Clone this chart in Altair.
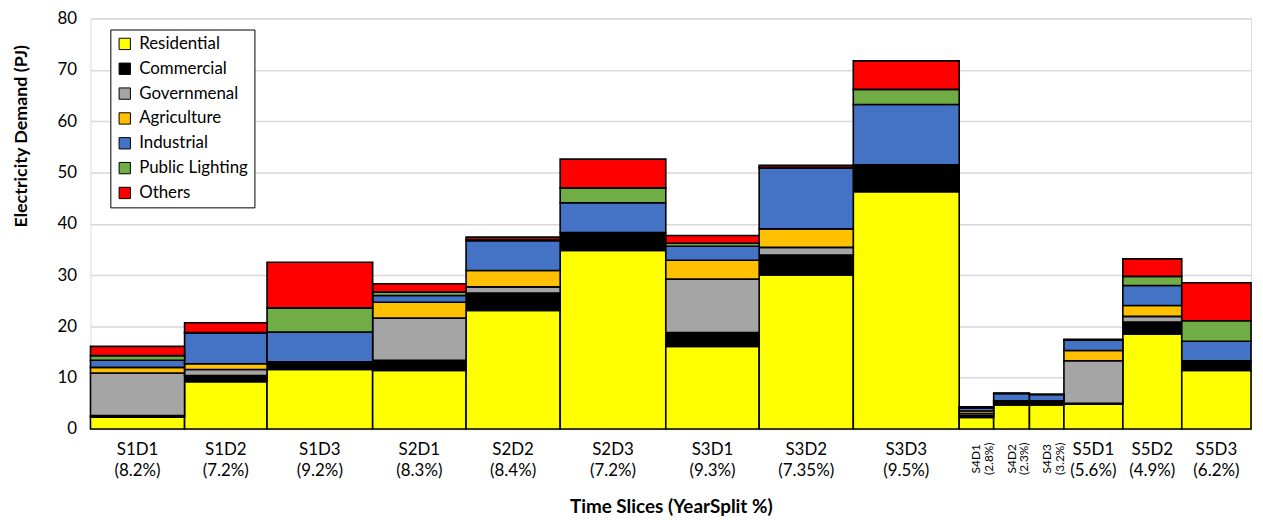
import altair as alt
import pandas as pd

# ---- data ----
slices = ["S1D1", "S1D2", "S1D3", "S2D1", "S2D2", "S2D3", "S3D1", "S3D2", "S3D3",
          "S4D1", "S4D2", "S4D3", "S5D1", "S5D2", "S5D3"]
year_split = ["8.2%", "7.2%", "9.2%", "8.3%", "8.4%", "7.2%", "9.3%", "7.35%", "9.5%",
              "2.8%", "2.3%", "3.2%", "5.6%", "4.9%", "6.2%"]
# relative drawn width of each time-slice column
slice_width = [94.7, 83.0, 106.3, 94.0, 94.7, 106.3, 94.0, 94.7, 106.6,
               34.7, 36.0, 34.7, 59.3, 59.3, 69.7]

sectors = ["Residential", "Commercial", "Governmenal", "Agriculture",
           "Industrial", "Public Lighting", "Others"]
colors = ["#FFFF00", "#000000", "#A5A5A5", "#FFC000", "#4472C4", "#70AD47", "#FF0000"]

residential = [2.3, 9.2, 11.6, 11.4, 23.1, 34.8, 16.1, 30.0, 46.25, 2.25, 4.7, 4.7, 4.8, 18.5, 11.4]
commercial = [0.3, 1.2, 1.5, 2.0, 3.4, 3.5, 2.7, 3.9, 5.25, 0.35, 0.4, 0.8, 0.2, 2.35, 1.9]
governmenal = [8.3, 1.2, 0.0, 8.2, 1.2, 0.0, 10.4, 1.5, 0.0, 0.4, 0.1, 0.0, 8.3, 1.1, 0.0]
agriculture = [1.1, 1.1, 0.0, 3.1, 3.2, 0.0, 3.7, 3.6, 0.0, 0.5, 0.3, 0.0, 2.0, 2.1, 0.0]
industrial = [1.4, 6.0, 5.8, 1.3, 5.8, 5.8, 2.7, 11.9, 11.75, 0.6, 1.4, 1.2, 2.0, 3.9, 3.8]
public_lighting = [0.9, 0.1, 4.7, 0.7, 0.2, 2.9, 0.6, 0.1, 2.95, 0.1, 0.0, 0.0, 0.1, 1.8, 4.0]
others = [1.8, 1.9, 8.9, 1.6, 0.5, 5.6, 1.5, 0.4, 5.55, 0.1, 0.1, 0.05, 0.1, 3.4, 7.4]

series = [residential, commercial, governmenal, agriculture, industrial, public_lighting, others]

# ---- build tables ----
rows = []
label_rows = []
x_start = 0.0
for i, s in enumerate(slices):
    x_end = x_start + slice_width[i]
    base = 0.0
    for k, sec in enumerate(sectors):
        v = series[k][i]
        rows.append({"slice": s, "sector": sec, "order": k, "value": v,
                     "x0": x_start, "x1": x_end, "y0": base, "y1": base + v})
        base += v
    label_rows.append({"slice": s, "xc": (x_start + x_end) / 2,
                       "label": f"{s}\n({year_split[i]})",
                       "narrow": s.startswith("S4")})
    x_start = x_end
total_width = x_start

df = pd.DataFrame(rows)
labels = pd.DataFrame(label_rows)

FONT = "Lato"
W, H = 1168, 413

xscale = alt.Scale(domain=[0, total_width], nice=False, zero=False)
yscale = alt.Scale(domain=[0, 80], nice=False)

bars = alt.Chart(df).mark_rect(stroke="#000000", strokeWidth=1.6).encode(
    x=alt.X("x0:Q", scale=xscale,
            axis=alt.Axis(labels=False, ticks=False, domain=False, grid=False,
                          title="Time Slices (YearSplit %)", titlePadding=69,
                          titleFont=FONT, titleFontSize=19, titleFontWeight="bold",
                          titleColor="#000000")),
    x2="x1:Q",
    y=alt.Y("y0:Q", scale=yscale,
            axis=alt.Axis(values=list(range(0, 81, 10)), ticks=False, domain=False,
                          grid=True, gridColor="#D9D9D9", gridWidth=1.5,
                          labelFont=FONT, labelFontSize=17, labelColor="#000000",
                          labelPadding=14,
                          title="Electricity Demand (PJ)", titleFont=FONT,
                          titleFontSize=18, titleFontWeight="bold", titleColor="#000000",
                          titleAngle=270, titleX=-69, titleY=118,
                          titleAlign="center", titleBaseline="middle")),
    y2="y1:Q",
    color=alt.Color("sector:N",
                    scale=alt.Scale(domain=sectors, range=colors),
                    sort=sectors,
                    legend=alt.Legend(title=None, orient="none", legendX=20, legendY=11,
                                      fillColor="#FFFFFF", strokeColor="#000000",
                                      padding=6, symbolType="square", symbolSize=130,
                                      symbolStrokeColor="#000000", symbolStrokeWidth=1,
                                      labelFont=FONT, labelFontSize=17, labelColor="#000000",
                                      rowPadding=7, labelOffset=6, labelLimit=250)),
    order=alt.Order("order:Q"),
)

wide_labels = alt.Chart(labels).transform_filter("!datum.narrow").mark_text(
    font=FONT, fontSize=17, color="#000000", align="center", baseline="top",
    lineBreak="\n", lineHeight=21,
).encode(
    x=alt.X("xc:Q", scale=xscale),
    y=alt.value(H + 13),
    text="label:N",
)

narrow_labels = alt.Chart(labels).transform_filter("datum.narrow").mark_text(
    font=FONT, fontSize=12, color="#000000", align="center", baseline="middle",
    lineBreak="\n", lineHeight=13, angle=270,
).encode(
    x=alt.X("xc:Q", scale=xscale),
    y=alt.value(H + 30),
    text="label:N",
)

chart = alt.layer(bars, wide_labels, narrow_labels).properties(
    width=W, height=H,
    autosize=alt.AutoSizeParams(type="none"),
    padding={"left": 83, "top": 9, "right": 4, "bottom": 90},
).configure_view(stroke="#000000", strokeWidth=1.2).configure(background="#FFFFFF")

chart.save("out.html", embed_options={"renderer": "svg", "actions": False})
